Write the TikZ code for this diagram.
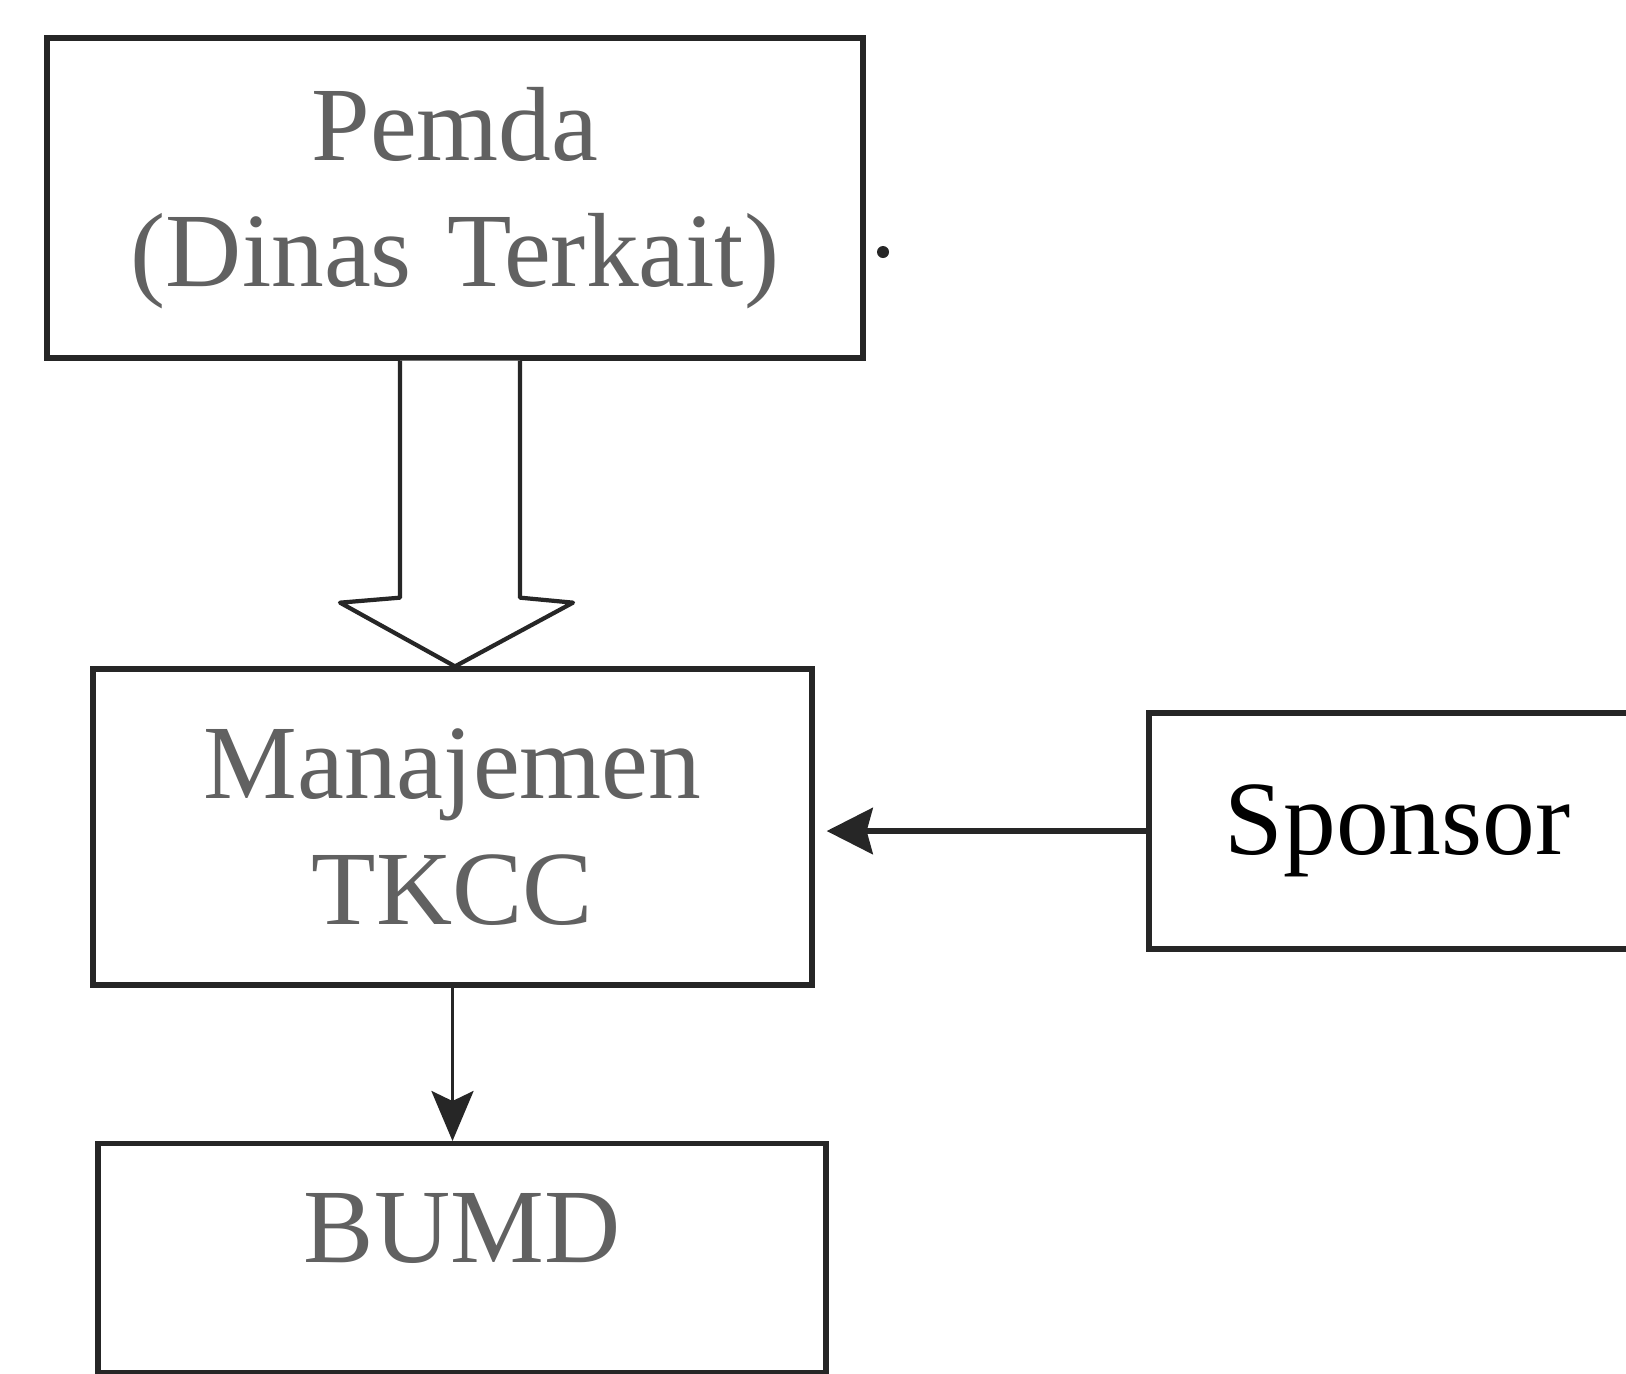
\documentclass[tikz,border=0pt]{standalone}
\usepackage{fontspec}
\setmainfont{Liberation Serif}
\usepackage{xcolor}
\usetikzlibrary{arrows.meta, calc, positioning}
\colorlet{ink}{black!85}
\colorlet{fade}{black!62}

\begin{document}
\begin{tikzpicture}[
    unit/.style={draw=ink, line width=1.5pt, align=center, inner sep=0pt,
                 font=\fontsize{30}{36}\selectfont, text=fade},
    side/.style={draw=ink, line width=1.6pt, align=left, inner ysep=0pt,
                 inner xsep=7.6mm, font=\fontsize{30}{36}\selectfont,
                 text=black, text width=55mm, minimum height=23.6mm},
    feed/.style={-{Stealth[length=4.6mm, width=4.6mm, inset=0.6mm]}, line width=1.8pt, draw=ink},
    down/.style={-{Stealth[length=5mm, width=4.2mm, inset=1mm]}, line width=1pt, draw=ink},
    block/.style={draw=ink, line width=1.2pt, line join=round, fill=white},
]
\clip (0,0) rectangle (16.26,-13.73);
\fill[white] (0,0) rectangle (16.26,-13.73);
\node[unit, text width=81.6mm, minimum height=32mm] (pemda) at (4.55,-1.98)
   {Pemda\\(Dinas Terkait)};
\node[unit, text width=71.9mm, minimum height=31.6mm] (mgmt) at (4.525,-8.27)
   {Manajemen\\TKCC};
\node[side, anchor=west] (sponsor) at (11.46,-8.31) {Sponsor};
\node[unit, text width=72.8mm, text height=11.9mm, text depth=11.0mm,
      anchor=north] (bumd) at (4.62,-11.41) {BUMD};
% wide arrow from Pemda into the management box
\draw[block] ($(pemda.south)+(-0.55,0)$) -- ++(0,-2.37) -- ++(-0.6,-0.05)
   -- (pemda.south |- mgmt.north) -- ($(pemda.south)+(1.18,-2.42)$)
   -- ++(-0.53,0.05) -- ++(0,2.37);
\draw[feed, shorten >=1.2mm] (sponsor.west) -- (sponsor.west -| mgmt.east);
\draw[down] (mgmt.south) -- (mgmt.south |- bumd.north);
\fill[ink] (8.83,-2.52) circle (0.6mm);
\end{tikzpicture}
\end{document}
